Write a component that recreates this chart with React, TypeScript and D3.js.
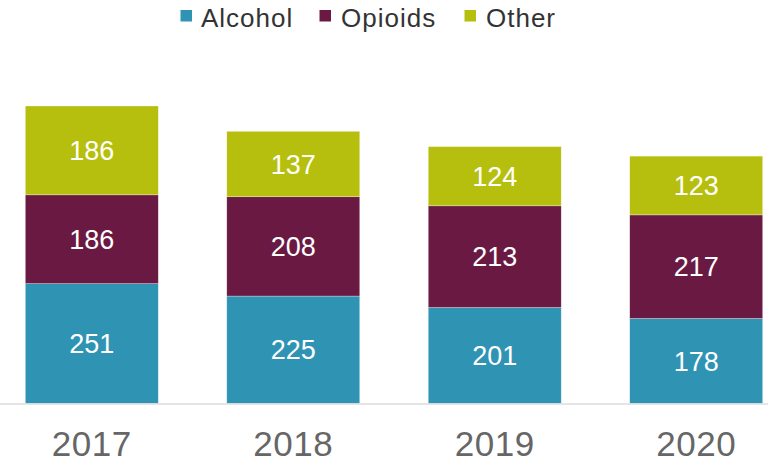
import React from "react";
import * as d3 from "d3";

const years = ["2017", "2018", "2019", "2020"];
const seriesNames = ["Alcohol", "Opioids", "Other"];
const alcohol = [251, 225, 201, 178];
const opioids = [186, 208, 213, 217];
const other = [186, 137, 124, 123];
const colors = ["#2f93b4", "#6a1a42", "#b6bf0e"];

const W = 768;
const H = 464;
const baseY = 403.5;
const FONT = "'Liberation Sans', Arial, sans-serif";

export default function App() {
  const rows = years.map((y, i) => ({ year: y, Alcohol: alcohol[i], Opioids: opioids[i], Other: other[i] }));
  const stack = d3.stack<any>().keys(seriesNames)(rows);
  const x = d3.scaleBand().domain(years).range([25.3, 762.7]).paddingInner(0.34).paddingOuter(0);
  const y = d3.scaleLinear().domain([0, 623]).range([baseY, 106]);

  const legendItems = [
    { name: "Alcohol", sx: 180.5, tx: 201 },
    { name: "Opioids", sx: 319.5, tx: 341 },
    { name: "Other", sx: 464.5, tx: 486 },
  ];

  return (
    <svg width={W} height={H} style={{ position: "absolute", left: 0, top: 0 }}>
      <rect width={W} height={H} fill="#fff" />
      {legendItems.map((l, i) => (
        <g key={l.name}>
          <rect x={l.sx} y={10} width={11.5} height={11.5} fill={colors[i]} />
          <text x={l.tx} y={27} fontFamily={FONT} fontSize={26} fill="#333" letterSpacing={1}>
            {l.name}
          </text>
        </g>
      ))}
      {stack.map((s, si) => (
        <g key={s.key}>
          {s.map((d, i) => {
            const x0 = x(years[i])!;
            const y0 = y(d[1]);
            const y1 = y(d[0]);
            return (
              <g key={i}>
                <rect x={x0} y={y0} width={x.bandwidth()} height={y1 - y0} fill={colors[si]} stroke="#fff" strokeWidth={0.6} strokeOpacity={0.5} />
                <text
                  x={x0 + x.bandwidth() / 2}
                  y={(y0 + y1) / 2}
                  dy="0.36em"
                  textAnchor="middle"
                  fontFamily={FONT}
                  fontSize={27}
                  fill="#fff"
                >
                  {d[1] - d[0]}
                </text>
              </g>
            );
          })}
        </g>
      ))}
      <line x1={0} x2={W} y1={baseY + 0.5} y2={baseY + 0.5} stroke="#dcdcdc" strokeWidth={1.5} />
      {years.map((yr) => (
        <text
          key={yr}
          x={x(yr)! + x.bandwidth() / 2}
          y={456}
          textAnchor="middle"
          fontFamily={FONT}
          fontSize={35}
          fill="#666"
          letterSpacing={0.5}
        >
          {yr}
        </text>
      ))}
    </svg>
  );
}
